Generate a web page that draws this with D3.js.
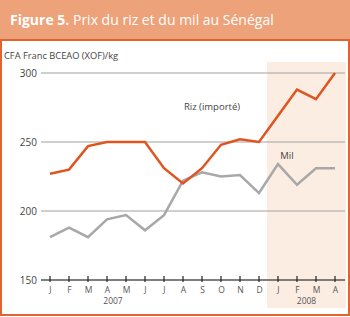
<!DOCTYPE html>
<html>
<head>
<meta charset="utf-8">
<script src="https://cdn.jsdelivr.net/npm/d3@7"></script>
<style>
  body { margin: 0; background: #fff; }
  text { font-family: "Open Sans", "Noto Sans", sans-serif; }
</style>
</head>
<body>
<svg id="chart" width="350" height="317"></svg>
<script>
let months = ["J","F","M","A","M","J","J","A","S","O","N","D","J","F","M","A"];
let years = [{label: "2007", from: 0, to: 11}, {label: "2008", from: 12, to: 15}];
let riz = [227, 230, 247, 250, 250, 250, 231, 220, 231, 248, 252, 250, 269, 288, 281, 300];
let mil = [181, 188, 181, 194, 197, 186, 197, 222, 228, 225, 226, 213, 234, 219, 231, 231];
let yTicks = [150, 200, 250, 300];

let width = 350, height = 317;
let svg = d3.select("#chart");

// header band + frame
svg.append("rect").attr("x", 0).attr("y", 0).attr("width", width).attr("height", 40).style("fill", "#eda279");
svg.append("rect").attr("x", 1).attr("y", 40).attr("width", width - 2).attr("height", 275)
  .style("fill", "#fff").style("stroke", "#e2632f").style("stroke-width", 2);

let title = svg.append("text").attr("x", 10).attr("y", 25).style("fill", "#fff").style("font-size", "14px");
title.append("tspan").style("font-weight", "bold").text("Figure 5.");
title.append("tspan").text(" Prix du riz et du mil au Sénégal");

let x = d3.scalePoint().domain(d3.range(months.length)).range([50, 335]);
let y = d3.scaleLinear().domain([150, 300]).range([280, 73]);

// 2008 shading
svg.append("rect")
  .attr("x", x(12) - 11).attr("y", 62)
  .attr("width", 346 - (x(12) - 11)).attr("height", 246)
  .style("fill", "#fcede3");

svg.append("text").attr("x", 4).attr("y", 59)
  .style("font-size", "9.3px").style("fill", "#444")
  .text("CFA Franc BCEAO (XOF)/kg");

// grid
svg.selectAll(".grid").data(yTicks.slice(1)).enter().append("line")
  .attr("x1", 41).attr("x2", 345)
  .attr("y1", d => y(d)).attr("y2", d => y(d))
  .style("stroke", "#a0a0a0").style("stroke-width", 1);

svg.selectAll(".ylab").data(yTicks).enter().append("text")
  .attr("x", 37).attr("y", d => y(d) + 3.5)
  .attr("text-anchor", "end")
  .style("font-size", "10px").style("fill", "#444")
  .text(d => d);

// x axis
let xAxis = d3.axisBottom(x).tickSize(0).tickFormat(i => months[i]);
let ax = svg.append("g").attr("transform", "translate(0," + y(150) + ")").call(xAxis);
ax.select(".domain").remove();
ax.selectAll("text").attr("dy", 0).attr("y", 12.5).style("font-size", "8.5px").style("fill", "#555")
  .style("font-family", "'Open Sans', sans-serif");
svg.append("line").attr("x1", 41).attr("x2", 345).attr("y1", y(150)).attr("y2", y(150))
  .style("stroke", "#555").style("stroke-width", 1.5);
svg.selectAll(".tk").data(d3.range(months.length)).enter().append("line")
  .attr("x1", d => x(d)).attr("x2", d => x(d))
  .attr("y1", y(150) - 4).attr("y2", y(150) + 2)
  .style("stroke", "#222").style("stroke-width", 1.2);

svg.selectAll(".year").data(years).enter().append("text")
  .attr("x", d => d.label == "2007" ? x(3) + 6 : (x(d.from) + x(d.to)) / 2)
  .attr("y", 304)
  .attr("text-anchor", "middle")
  .style("font-size", "8.5px").style("fill", "#555")
  .text(d => d.label);

// lines
let line = d3.line().x((d, i) => x(i)).y(d => y(d));
svg.append("path").datum(mil).attr("d", line)
  .style("fill", "none").style("stroke", "#a8a8a8").style("stroke-width", 2.5);
svg.append("path").datum(riz).attr("d", line)
  .style("fill", "none").style("stroke", "#e0541f").style("stroke-width", 2.5);

svg.append("text").attr("x", 212).attr("y", 110).attr("text-anchor", "middle")
  .style("font-size", "9.5px").style("fill", "#444").text("Riz (importé)");
svg.append("text").attr("x", 287).attr("y", 159).attr("text-anchor", "middle")
  .style("font-size", "9.5px").style("fill", "#444").text("Mil");
</script>
</body>
</html>
